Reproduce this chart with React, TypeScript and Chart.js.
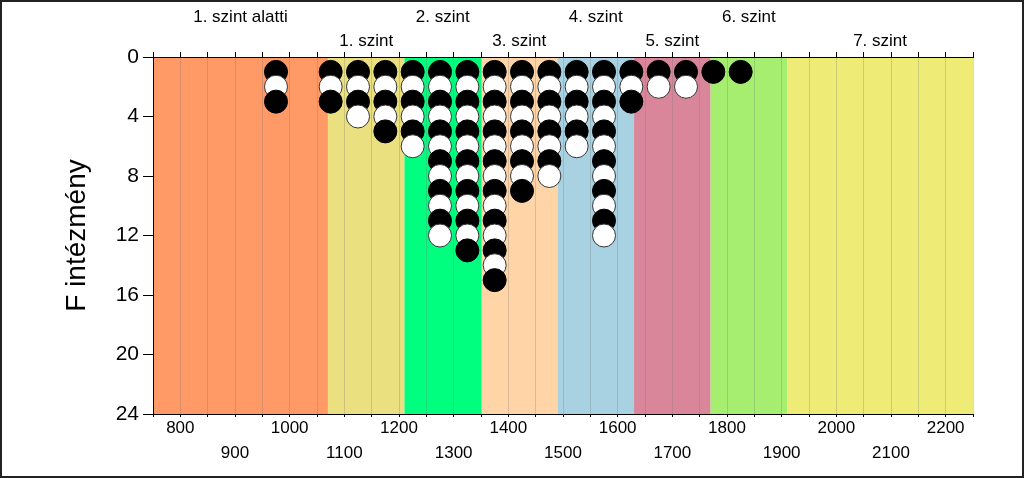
import React, { useEffect, useRef } from 'react';
import { Chart, registerables } from 'chart.js';

Chart.register(...registerables);

// Levels (bands) on the score axis
const levelNames = ['1. szint alatti', '1. szint', '2. szint', '3. szint', '4. szint', '5. szint', '6. szint', '7. szint'];
const levelStarts = [750, 1070, 1210, 1350, 1490, 1630, 1770, 1910];
const levelEnds = [1070, 1210, 1350, 1490, 1630, 1770, 1910, 2250];
const levelColors = ['#FF9966', '#EAE07F', '#00FF7F', '#FFD5A8', '#A8D1E2', '#D9869A', '#A6EE70', '#EEEC76'];

// Dot columns: score bin and number of institutions in it
const columnScores = [975, 1075, 1125, 1175, 1225, 1275, 1325, 1375, 1425, 1475, 1525, 1575, 1625, 1675, 1725, 1775, 1825];
const columnCounts = [3, 3, 4, 5, 6, 12, 13, 15, 9, 8, 6, 12, 3, 2, 2, 1, 1];

// Axes
const xMin = 750;
const xMax = 2250;
const xStep = 50;
const yMin = 0;
const yMax = 24;
const yStep = 4;
const yTitle = 'F intézmény';

const FONT = "'Liberation Sans', Arial, sans-serif";

export default function App() {
  const canvasRef = useRef<HTMLCanvasElement | null>(null);

  useEffect(() => {
    const canvas = canvasRef.current;
    if (!canvas) return;

    const points: { x: number; y: number }[] = [];
    columnScores.forEach((score, i) => {
      for (let k = 1; k <= columnCounts[i]; k++) points.push({ x: score, y: k });
    });

    const bandsPlugin = {
      id: 'bands',
      beforeDraw(chart: any) {
        const { ctx, chartArea, scales } = chart;
        ctx.save();
        ctx.fillStyle = '#ffffff';
        ctx.fillRect(0, 0, chart.width, chart.height);
        levelStarts.forEach((s, i) => {
          const x0 = scales.x.getPixelForValue(s);
          const x1 = scales.x.getPixelForValue(levelEnds[i]);
          ctx.fillStyle = levelColors[i];
          ctx.fillRect(x0, chartArea.top, x1 - x0, chartArea.bottom - chartArea.top);
        });
        ctx.restore();
      },
      afterDraw(chart: any) {
        const { ctx, chartArea, scales } = chart;
        ctx.save();
        ctx.fillStyle = '#000';
        ctx.font = `17px ${FONT}`;
        ctx.textAlign = 'center';
        ctx.textBaseline = 'middle';
        levelNames.forEach((name, i) => {
          const cx = scales.x.getPixelForValue((levelStarts[i] + levelEnds[i]) / 2);
          const cy = i % 2 === 0 ? chartArea.top - 40 : chartArea.top - 16;
          ctx.fillText(name, cx, cy);
        });
        ctx.strokeStyle = '#222';
        ctx.lineWidth = 2;
        ctx.strokeRect(1, 1, chart.width - 2, chart.height - 2);
        ctx.restore();
      },
    };

    const chart = new Chart(canvas, {
      type: 'scatter',
      data: {
        datasets: [
          {
            data: points,
            pointRadius: 11.5,
            pointHoverRadius: 11.5,
            borderWidth: 1,
            pointBackgroundColor: (c: any) => (c.raw && c.raw.y % 2 === 1 ? '#000000' : '#ffffff'),
            pointBorderColor: (c: any) => (c.raw && c.raw.y % 2 === 1 ? '#000000' : '#333333'),
            clip: false,
          } as any,
        ],
      },
      options: {
        responsive: false,
        animation: false,
        devicePixelRatio: 1,
        layout: { padding: { left: 0, right: 51, top: 0, bottom: 0 } },
        plugins: { legend: { display: false }, tooltip: { enabled: false } },
        scales: {
          x: {
            type: 'linear',
            position: 'bottom',
            min: xMin,
            max: xMax,
            ticks: {
              stepSize: xStep,
              maxTicksLimit: 100,
              autoSkip: false,
              maxRotation: 0,
              padding: -1,
              color: '#000',
              font: { family: FONT, size: 17, lineHeight: 25 / 17 },
              callback: (v: any) => {
                const n = Number(v);
                if (n % 200 === 0) return [String(n), ''];
                if (n % 100 === 0) return ['', String(n)];
                return '';
              },
            },
            grid: { color: 'rgba(120,120,120,0.28)', tickColor: '#000', tickLength: 3, lineWidth: 1 },
            border: { color: '#000', width: 1 },
            afterFit: (s: any) => {
              s.height = 64;
            },
          },
          x2: {
            type: 'linear',
            position: 'top',
            min: xMin,
            max: xMax,
            ticks: { stepSize: xStep, maxTicksLimit: 100, autoSkip: false, display: false },
            grid: { drawOnChartArea: false, tickColor: '#000', tickLength: 5 },
            border: { color: '#000', width: 1 },
            afterFit: (s: any) => {
              s.height = 57;
            },
          },
          y: {
            type: 'linear',
            reverse: true,
            min: yMin,
            max: yMax,
            ticks: { stepSize: yStep, padding: 4, color: '#000', font: { family: FONT, size: 21 } },
            grid: { drawOnChartArea: false, tickColor: '#000', tickLength: 10 },
            border: { color: '#000', width: 1 },
            title: {
              display: true,
              text: yTitle,
              color: '#000',
              font: { family: FONT, size: 28 },
              padding: { top: 60, bottom: 0 },
            },
            afterFit: (s: any) => {
              s.width = 153;
            },
          },
        },
      },
      plugins: [bandsPlugin],
    } as any);

    return () => chart.destroy();
  }, []);

  return (
    <div style={{ position: 'fixed', left: 0, top: 0, width: 1024, height: 478 }}>
      <canvas ref={canvasRef} width={1024} height={478} style={{ display: 'block' }} />
    </div>
  );
}
